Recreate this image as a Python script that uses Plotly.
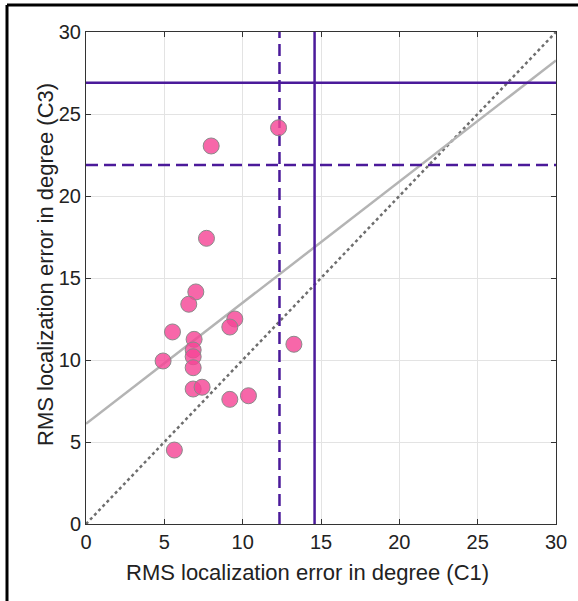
import numpy as np
import plotly.graph_objects as go

# RMS localization errors per subject
c1_error = [12.29, 7.99, 7.69, 7.01, 6.56, 5.52, 9.50, 9.18, 6.90, 6.84,
            6.84, 4.92, 6.84, 13.27, 6.84, 7.41, 9.18, 10.37, 5.64]
c3_error = [24.16, 23.05, 17.42, 14.15, 13.40, 11.71, 12.50, 12.01, 11.26, 10.61,
            10.20, 9.94, 9.53, 10.96, 8.23, 8.34, 7.60, 7.82, 4.51]

# reference levels
c1_mean, c1_ref = 12.35, 14.59
c3_mean, c3_ref = 21.89, 26.90

axis_range = [0, 30]
tick_vals = [0, 5, 10, 15, 20, 25, 30]
x_title = "RMS localization error in degree (C1)"
y_title = "RMS localization error in degree (C3)"

slope, intercept = np.polyfit(c1_error, c3_error, 1)
fit_x = np.array(axis_range, dtype=float)
fit_y = slope * fit_x + intercept

purple = "#4B1A9A"
dash_style = "12px,6px"

fig = go.Figure()
fig.add_trace(go.Scatter(x=axis_range, y=axis_range, mode="lines",
                         line=dict(color="#6e6e6e", width=2.5, dash="dot"),
                         hoverinfo="skip", showlegend=False))
fig.add_trace(go.Scatter(x=fit_x, y=fit_y, mode="lines",
                         line=dict(color="#b4b4b4", width=2.5),
                         hoverinfo="skip", showlegend=False))
fig.add_trace(go.Scatter(x=[c1_ref, c1_ref], y=axis_range, mode="lines",
                         line=dict(color=purple, width=2.5), showlegend=False))
fig.add_trace(go.Scatter(x=[c1_mean, c1_mean], y=axis_range, mode="lines",
                         line=dict(color=purple, width=2.5, dash=dash_style), showlegend=False))
fig.add_trace(go.Scatter(x=axis_range, y=[c3_ref, c3_ref], mode="lines",
                         line=dict(color=purple, width=2.5), showlegend=False))
fig.add_trace(go.Scatter(x=axis_range, y=[c3_mean, c3_mean], mode="lines",
                         line=dict(color=purple, width=2.5, dash=dash_style), showlegend=False))
fig.add_trace(go.Scatter(x=c1_error, y=c3_error, mode="markers",
                         marker=dict(size=16, color="rgba(245,70,150,0.82)",
                                     line=dict(color="#8a8a8a", width=1)),
                         showlegend=False))

axis_common = dict(range=axis_range, tickvals=tick_vals, showgrid=True,
                   gridcolor="#e3e3e3", gridwidth=1, zeroline=False,
                   showline=True, linecolor="#333333", linewidth=1, mirror="ticks",
                   ticks="inside", ticklen=5, tickcolor="#333333",
                   tickfont=dict(size=20, color="#222222"))

L, T, PW, PH = 86, 32, 470, 492
fig.update_layout(
    width=578, height=601,
    margin=dict(l=L, r=578 - L - PW, t=T, b=601 - T - PH),
    paper_bgcolor="white", plot_bgcolor="white",
    font=dict(family="Liberation Sans, Arial, sans-serif", color="#222222"),
    xaxis=axis_common,
    yaxis=axis_common,
    annotations=[
        dict(text=x_title, xref="paper", yref="paper", showarrow=False,
             x=(307 - L) / PW, y=-(572 - T - PH) / PH,
             xanchor="center", yanchor="middle", font=dict(size=22)),
        dict(text=y_title, xref="paper", yref="paper", showarrow=False,
             textangle=-90, x=(45 - L) / PW, y=(T + PH - 265) / PH,
             xanchor="center", yanchor="middle", font=dict(size=22)),
    ],
    shapes=[
        dict(type="line", xref="paper", yref="paper",
             x0=(7 - L) / PW, x1=(578 - L) / PW,
             y0=1 + (T - 5) / PH, y1=1 + (T - 5) / PH,
             line=dict(color="black", width=3)),
        dict(type="line", xref="paper", yref="paper",
             x0=(7 - L) / PW, x1=(7 - L) / PW,
             y0=1 + (T - 5) / PH, y1=-(601 - T - PH) / PH,
             line=dict(color="black", width=3)),
    ],
)

fig.write_html("out.html", config={"displayModeBar": False},
               post_script="document.body.style.margin='0';")
